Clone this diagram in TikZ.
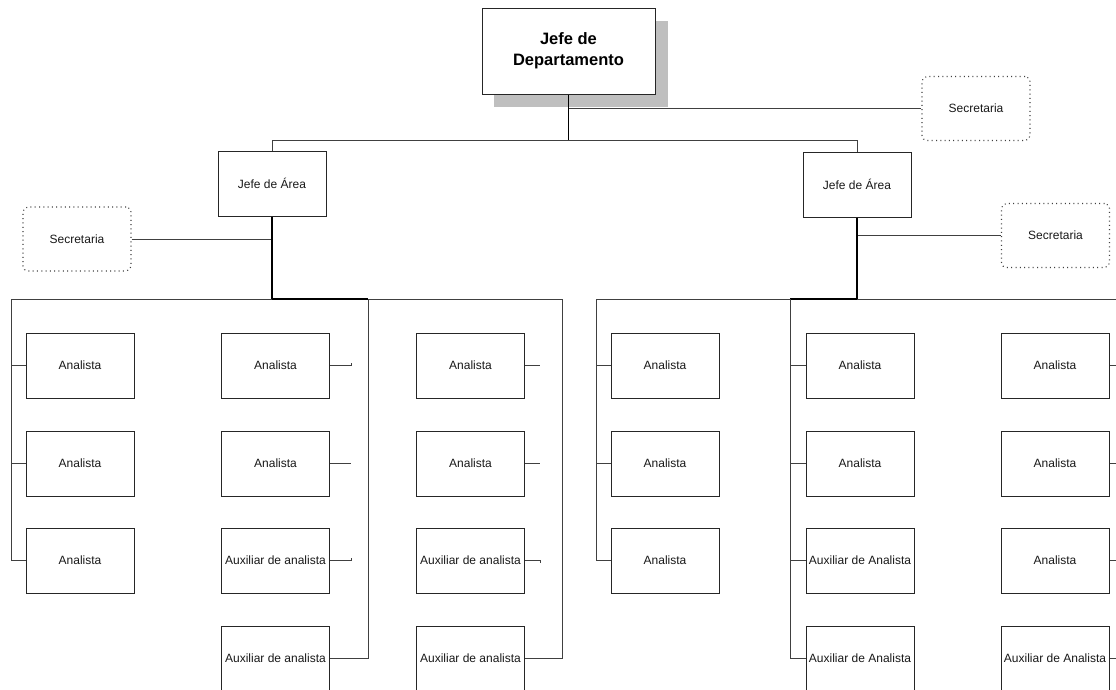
\documentclass[tikz,border=0pt]{standalone}
\usepackage{fontspec}
\setmainfont{Liberation Sans}
\begin{document}
\begin{tikzpicture}[x=1pt,y=-1pt,
  box/.style={draw=black!85, line width=1pt, fill=white, minimum width=108pt,
    minimum height=65pt, inner sep=0pt, font=\fontsize{12}{14}\selectfont, text=black!90},
  sec/.style={box, draw=black!75, line width=1.1pt, dash pattern=on 1pt off 3.3pt,
    rounded corners=5pt, minimum height=64pt},
  head/.style={box, minimum width=173pt, minimum height=86pt, align=center,
    font=\bfseries\fontsize{16.5}{21}\selectfont, text=black},
  link/.style={draw=black!75, line width=0.9pt},
  trunk/.style={draw=black, line width=1.7pt}]

\useasboundingbox (0,0) rectangle (1116,689);
\clip (0,0) rectangle (1116,689);
\fill[white] (0,0) rectangle (1116,689);

% department head with its drop shadow
\fill[black!25] (494,21) rectangle (668,107);
\node[head] (jd) at (568.5,51) {Jefe de\\Departamento};

% secretaries
\node[sec] (sec0) at (976,108.5) {Secretaria};
\node[sec] (sec1) at (77,239) {Secretaria};
\node[sec] (sec2) at (1055.5,235.5) {Secretaria};

% area heads
\node[box] (ja1) at (272,183.5) {Jefe de Área};
\node[box] (ja2) at (857,184.5) {Jefe de Área};

% junction points
\coordinate (bus0) at (568.5,140);
\coordinate (t1) at (568.5,108.5);
\coordinate (b1) at (272,299);
\coordinate (b2) at (857,299);
\coordinate (v1) at (11,299);
\coordinate (v2) at (368,299);
\coordinate (v3) at (562,299);
\coordinate (v4) at (596,299);
\coordinate (v5) at (790,299);
\coordinate (v6) at (1125,299);

% staff boxes, left area
\node[box] (a11) at (80,365.5) {Analista};
\node[box] (a12) at (80,463.5) {Analista};
\node[box] (a13) at (80,560.5) {Analista};

\node[box] (a21) at (275.5,365.5) {Analista};
\node[box] (a22) at (275.5,463.5) {Analista};
\node[box] (a23) at (275.5,560.5) {Auxiliar de analista};
\node[box] (a24) at (275.5,658.5) {Auxiliar de analista};

\node[box] (a31) at (470.5,365.5) {Analista};
\node[box] (a32) at (470.5,463.5) {Analista};
\node[box] (a33) at (470.5,560.5) {Auxiliar de analista};
\node[box] (a34) at (470.5,658.5) {Auxiliar de analista};

% staff boxes, right area
\node[box] (a41) at (665,365.5) {Analista};
\node[box] (a42) at (665,463.5) {Analista};
\node[box] (a43) at (665,560.5) {Analista};

\node[box] (a51) at (860,365.5) {Analista};
\node[box] (a52) at (860,463.5) {Analista};
\node[box] (a53) at (860,560.5) {Auxiliar de Analista};
\node[box] (a54) at (860,658.5) {Auxiliar de Analista};

\node[box] (a61) at (1055,365.5) {Analista};
\node[box] (a62) at (1055,463.5) {Analista};
\node[box] (a63) at (1055,560.5) {Analista};
\node[box] (a64) at (1055,658.5) {Auxiliar de Analista};

% top level
\draw[trunk] (jd.south) -- (bus0);
\draw[link] (t1) -- (sec0.west);
\draw[link] (ja1.north) -- (ja1.north |- bus0) -- (ja2.north |- bus0) -- (ja2.north);

% left area
\draw[link] (sec1.east) -- (sec1.east -| ja1.south);
\draw[trunk] (ja1.south) -- (b1) -- (v2);
\draw[link] (v1) -- (b1);
\draw[link] (v2) -- (v3);
\draw[link] (v1) -- (v1 |- a13.west);
\foreach \n in {a11,a12,a13} \draw[link] (v1 |- \n.west) -- (\n.west);
\draw[link] (a21.east) -- ++(21,0) -- ++(0,-2.5);
\draw[link] (a22.east) -- ++(21,0);
\draw[link] (a23.east) -- ++(21,0) -- ++(0,-2.5);
\draw[link] (a24.east) -- (a24.east -| v2) -- (v2);
\draw[link] (a31.east) -- ++(15,0);
\draw[link] (a32.east) -- ++(15,0);
\draw[link] (a33.east) -- ++(15,0) -- ++(0,2.5);
\draw[link] (a34.east) -- (a34.east -| v3) -- (v3);

% right area
\draw[link] (sec2.west) -- (sec2.west -| ja2.south);
\draw[trunk] (ja2.south) -- (b2) -- (v5);
\draw[link] (v4) -- (v5);
\draw[link] (b2) -- (v6);
\draw[link] (v4) -- (v4 |- a43.west);
\foreach \n in {a41,a42,a43} \draw[link] (v4 |- \n.west) -- (\n.west);
\draw[link] (v5) -- (v5 |- a54.west);
\foreach \n in {a51,a52,a53,a54} \draw[link] (v5 |- \n.west) -- (\n.west);
\draw[link] (v6) -- (v6 |- a64.east);
\foreach \n in {a61,a62,a63,a64} \draw[link] (\n.east) -- (\n.east -| v6);
\end{tikzpicture}
\end{document}
